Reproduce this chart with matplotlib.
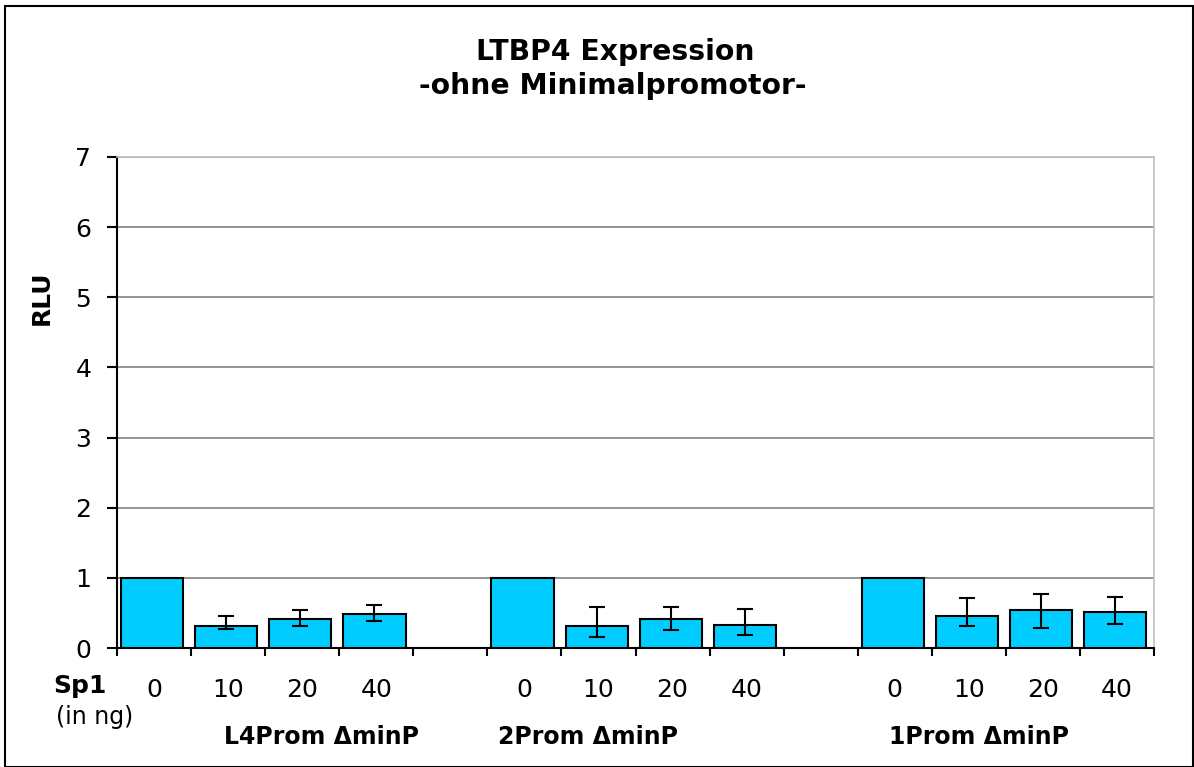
import numpy as np
import matplotlib.pyplot as plt
from matplotlib.patches import Rectangle

plt.rcParams['font.family'] = ['DejaVu Sans']

# data (blank slot between groups = nan)
doses = ["0", "10", "20", "40", ""]
groups = ["L4Prom \u0394minP", "2Prom \u0394minP", "1Prom \u0394minP"]
rlu = [1.0, 0.31, 0.41, 0.49, np.nan,
       1.0, 0.31, 0.41, 0.33, np.nan,
       1.0, 0.46, 0.54, 0.52]
err_low = [0, 0.04, 0.10, 0.10, 0,
           0, 0.15, 0.15, 0.14, 0,
           0, 0.15, 0.25, 0.18]
err_high = [0, 0.15, 0.13, 0.13, 0,
            0, 0.28, 0.17, 0.23, 0,
            0, 0.25, 0.23, 0.20]

labels = (doses * 3)[:len(rlu)]
x = np.arange(len(rlu))

W, H = 1194, 767
fig = plt.figure(figsize=(W/100, H/100), dpi=100)
ax = fig.add_axes([117/W, 1-648/H, 1037/W, 491/H])

ax.bar(x - 0.025, rlu, width=0.84, color='#00CCFF', edgecolor='black', linewidth=1.5, zorder=3)
for xi, v, lo, hi in zip(x, rlu, err_low, err_high):
    if np.isnan(v) or (lo == 0 and hi == 0):
        continue
    ax.errorbar(xi - 0.025, v, yerr=[[lo], [hi]], fmt='none', ecolor='black',
                elinewidth=1.5, capsize=6, capthick=1.5, zorder=4)

ax.set_xlim(-0.5, len(rlu) - 0.5)
ax.set_ylim(0, 7)
ax.set_yticks(range(0, 8))
ax.yaxis.grid(True, color='#808080', linewidth=1.2, zorder=0)
ax.set_axisbelow(True)

ax.set_xticks(x)
ax.set_xticklabels(labels, fontsize=18)
ax.set_xticks(np.arange(-0.5, len(rlu)), minor=True)
ax.tick_params(axis='x', which='major', length=0, pad=21.5)
ax.tick_params(axis='x', which='minor', length=6, width=1.5, direction='out')
ax.tick_params(axis='y', labelsize=18, length=7, width=1.5, direction='out', pad=11.5)

for s in ['left', 'bottom']:
    ax.spines[s].set_linewidth(1.5)
for s in ['top', 'right']:
    ax.spines[s].set_color('#c0c0c0')
    ax.spines[s].set_linewidth(1.2)

fig.text(42/W, 1-298/H, "RLU", ha='center', va='center', rotation=90,
         fontsize=18, fontweight='bold')

fig.text(615/W, 1-60/H, "LTBP4 Expression", ha='center', va='baseline',
         fontsize=20.3, fontweight='bold')
fig.text(613/W, 1-94/H, "-ohne Minimalpromotor-", ha='center', va='baseline',
         fontsize=20.3, fontweight='bold')

fig.text(80/W, 1-686/H, "Sp1", ha='center', va='center', fontsize=18, fontweight='bold')
fig.text(95/W, 1-717/H, "(in ng)", ha='center', va='center', fontsize=17)
for gx, g in zip([322, 588, 979], groups):
    fig.text(gx/W, 1-737/H, g, ha='center', va='center', fontsize=17, fontweight='bold')

fig.patches.append(Rectangle((5/W, 0), 1188/W, 1-6/H, transform=fig.transFigure,
                             fill=False, edgecolor='black', linewidth=1.5))

fig.savefig("out.png", dpi=100)
